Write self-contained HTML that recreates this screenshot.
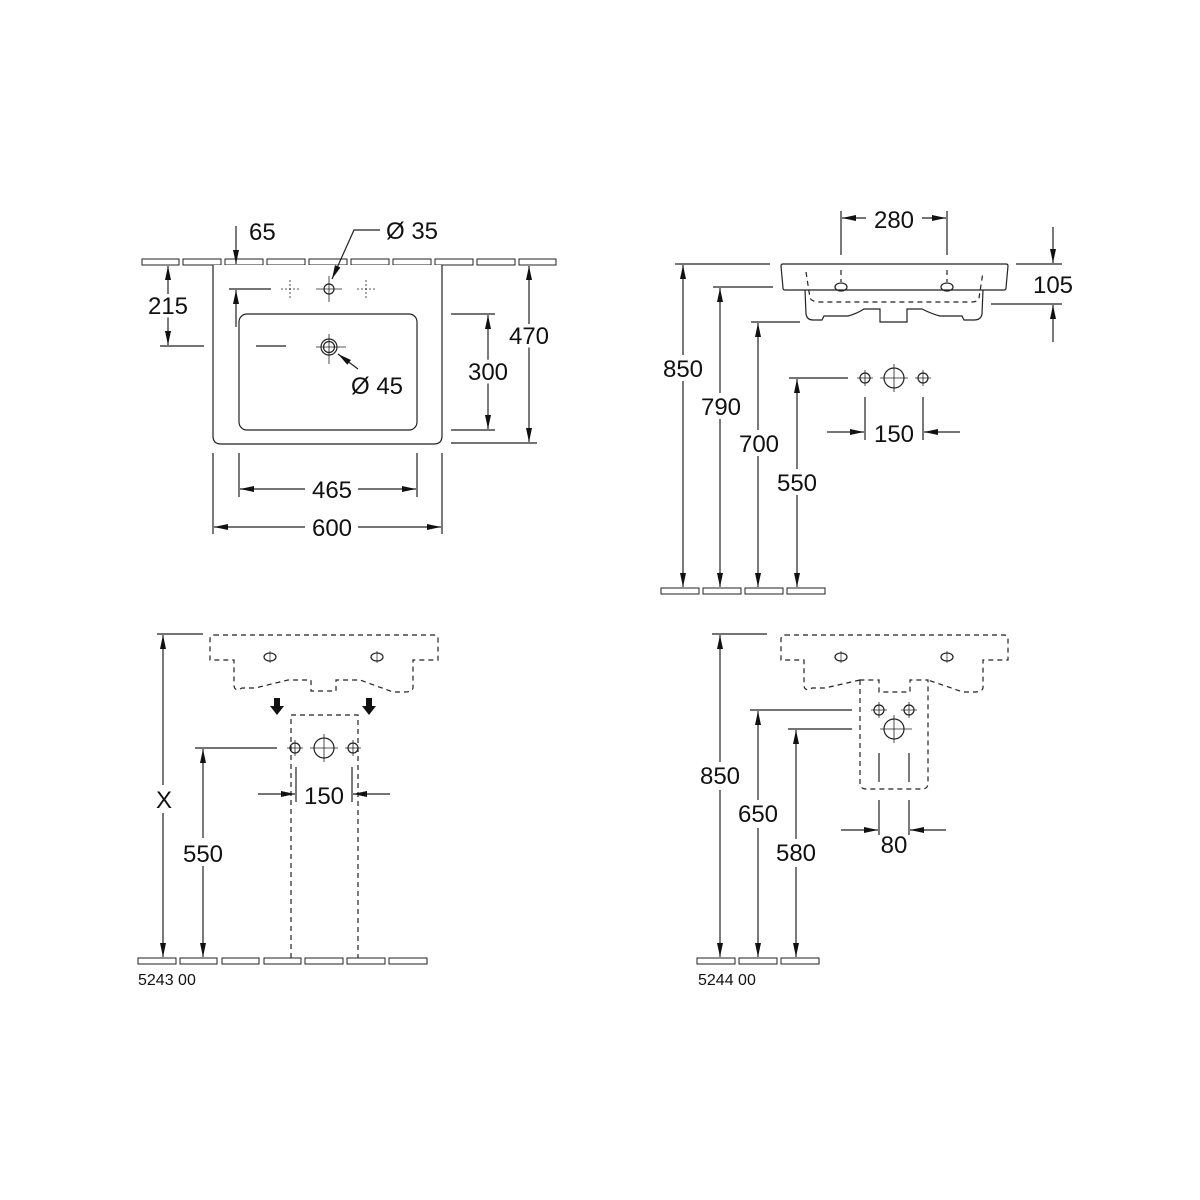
<!DOCTYPE html>
<html><head><meta charset="utf-8"><style>
html,body{margin:0;padding:0;background:#fff}
svg{display:block}
text{font-family:"Liberation Sans",Arial,sans-serif;font-size:24px;fill:#111;stroke:#fff;stroke-width:7px;paint-order:stroke;stroke-linejoin:round}
.s{font-size:16px;stroke-width:0}
</style></head><body>
<svg width="1200" height="1200" viewBox="0 0 1200 1200" xmlns="http://www.w3.org/2000/svg">
<defs>
<marker id="a" viewBox="0 0 14 6" refX="14" refY="3" markerWidth="14" markerHeight="6" markerUnits="userSpaceOnUse" orient="auto"><path d="M0,0 L14,3 L0,6 Z" fill="#111"/></marker>
</defs>
<g fill="none" stroke="#222" stroke-width="1.2">
<!-- ===== TOP LEFT ===== -->
<g stroke-width="1">
<rect x="142" y="259" width="37" height="6"/><rect x="183" y="259" width="38" height="6"/><rect x="225" y="259" width="38" height="6"/><rect x="267" y="259" width="38" height="6"/><rect x="309" y="259" width="38" height="6"/><rect x="351" y="259" width="38" height="6"/><rect x="393" y="259" width="38" height="6"/><rect x="435" y="259" width="38" height="6"/><rect x="477" y="259" width="38" height="6"/><rect x="519" y="259" width="37" height="6"/>
</g>
<path d="M213,265 V436 Q213,444 221,444 H434 Q442,444 442,436 V265" fill="#fff"/>
<rect x="239" y="314" width="178" height="116" rx="8"/>
<!-- taps -->
<circle cx="329" cy="289" r="5"/><path d="M316,289H342M329,276V302" stroke-width="0.8"/>
<g stroke-width="0.8" stroke-dasharray="2,2"><path d="M281,289H299M290,280V298M357,289H375M366,280V298"/></g>
<circle cx="329" cy="347" r="8"/><circle cx="329" cy="347" r="5.5"/><path d="M316,347H346M329,334V364" stroke-width="0.8"/>
<!-- 65 -->
<path d="M236,226V264" marker-end="url(#a)"/>
<!-- Ø35 -->
<path d="M380,230H354L332,279" marker-end="url(#a)"/>
<!-- Ø45 -->
<path d="M358,369L338,354" marker-end="url(#a)"/>
<!-- 215 -->
<path d="M168,300V266" marker-end="url(#a)"/><path d="M168,312V345" marker-end="url(#a)"/>
<path d="M160,346H204M256,346H286"/>
<path d="M229,289H271"/><path d="M236,327V290" marker-end="url(#a)"/>
<!-- 300 -->
<path d="M451,314H495M451,430H495"/>
<path d="M488,360V315" marker-end="url(#a)"/><path d="M488,382V429" marker-end="url(#a)"/>
<!-- 470 -->
<path d="M451,443H537"/>
<path d="M529,325V266" marker-end="url(#a)"/><path d="M529,347V442" marker-end="url(#a)"/>
<!-- 465 -->
<path d="M239,453V497M417,453V497"/>
<path d="M305,489H240" marker-end="url(#a)"/><path d="M358,489H416" marker-end="url(#a)"/>
<!-- 600 -->
<path d="M213,453V534M442,453V534"/>
<path d="M305,527H214" marker-end="url(#a)"/><path d="M358,527H441" marker-end="url(#a)"/>

<!-- ===== TOP RIGHT ===== -->
<path d="M841,211V255M947,211V255"/>
<path d="M866,218H842" marker-end="url(#a)"/><path d="M922,218H946" marker-end="url(#a)"/>
<path d="M781,266 Q781,264 783,264 H1006 Q1008,264 1008,266 L1006,288 Q1006,290 1004,290 H785 Q783,290 783,288 Z"/>
<path d="M805,290 L806,314 Q807,320 813,320 L822,320 L824,316 H848 Q856,314 864,309 H880 V322 H907 V309 H922 Q932,314 940,316 H962 L964,320 H974 Q981,320 982,314 L983,290"/>
<g stroke-dasharray="5,4"><path d="M806,272 L810,298 Q812,302 820,302 H972 Q978,302 979,298 L983,272"/><path d="M841,270V282M947,270V282"/></g>
<ellipse cx="841" cy="287" rx="6" ry="4"/><ellipse cx="947" cy="287" rx="6" ry="4"/>
<!-- 105 -->
<path d="M1016,264H1062M991,304H1062"/>
<path d="M1053,227V263" marker-end="url(#a)"/><path d="M1053,342V305" marker-end="url(#a)"/>
<!-- heights -->
<path d="M675,264H770M713,287H773M751,322H800M789,378H848"/>
<path d="M683,355V265" marker-end="url(#a)"/><path d="M683,381V587" marker-end="url(#a)"/>
<path d="M720,393V288" marker-end="url(#a)"/><path d="M720,419V587" marker-end="url(#a)"/>
<path d="M758,430V323" marker-end="url(#a)"/><path d="M758,456V587" marker-end="url(#a)"/>
<path d="M797,469V379" marker-end="url(#a)"/><path d="M797,495V587" marker-end="url(#a)"/>
<g stroke-width="1"><rect x="661" y="588" width="38" height="6"/><rect x="703" y="588" width="38" height="6"/><rect x="745" y="588" width="38" height="6"/><rect x="787" y="588" width="38" height="6"/></g>
<circle cx="865" cy="378" r="5"/><path d="M857,378H873M865,370V386" stroke-width="0.8"/>
<circle cx="894" cy="378" r="10"/><path d="M880,378H908M894,364V392" stroke-width="0.8"/>
<circle cx="923" cy="378" r="5"/><path d="M915,378H931M923,370V386" stroke-width="0.8"/>
<path d="M865,397V440M923,397V440"/>
<path d="M827,432H864" marker-end="url(#a)"/><path d="M960,432H924" marker-end="url(#a)"/>

<!-- ===== BOTTOM LEFT ===== -->
<g stroke-dasharray="5,4">
<path d="M214,635 H434 Q438,635 438,639 V660 H413 V688 Q412,692 405,692 H393 L360,680 H336 V691 H311 V680 H288 L255,688 H242 Q235,692 234,686 V660 H210 V639 Q210,635 214,635"/>
<path d="M291,958 V715 H358 V958"/>
</g>
<ellipse cx="270" cy="657" rx="6" ry="4"/><ellipse cx="377" cy="657" rx="6" ry="4"/>
<path d="M270,651V663M377,651V663" stroke-width="0.7"/>
<path d="M157,634H203"/>
<path d="M163,785V635" marker-end="url(#a)"/><path d="M163,813V957" marker-end="url(#a)"/>
<path d="M195,748H277"/>
<path d="M203,838V749" marker-end="url(#a)"/><path d="M203,866V957" marker-end="url(#a)"/>
<circle cx="295" cy="748" r="5"/><path d="M287,748H303M295,740V756" stroke-width="0.8"/>
<circle cx="324" cy="748" r="10"/><path d="M310,748H338M324,734V762" stroke-width="0.8"/>
<circle cx="353" cy="748" r="5"/><path d="M345,748H361M353,740V756" stroke-width="0.8"/>
<path d="M296,767V802M352,767V802"/>
<path d="M258,794H295" marker-end="url(#a)"/><path d="M390,794H353" marker-end="url(#a)"/>
<g stroke-width="1"><rect x="138" y="958" width="38" height="6"/><rect x="180" y="958" width="37" height="6"/><rect x="222" y="958" width="37" height="6"/><rect x="264" y="958" width="37" height="6"/><rect x="305" y="958" width="38" height="6"/><rect x="347" y="958" width="38" height="6"/><rect x="389" y="958" width="38" height="6"/></g>
<path d="M274,698h6v8h4l-7,9l-7,-9h4z M366,698h6v8h4l-7,9l-7,-9h4z" fill="#111" stroke="none"/>

<!-- ===== BOTTOM RIGHT ===== -->
<g stroke-dasharray="5,4">
<path d="M785,635 H1004 Q1008,635 1008,639 V660 H983 V688 Q982,692 975,692 H963 L928,680 M860,680 L825,688 H812 Q805,692 804,686 V660 H781 V639 Q781,635 785,635"/>
<path d="M860,680 V783 Q860,789 866,789 H922 Q928,789 928,783 V680 H910 V692 H879 V680 Z"/>
</g>
<ellipse cx="841" cy="657" rx="6" ry="4"/><ellipse cx="947" cy="657" rx="6" ry="4"/>
<path d="M841,651V663M947,651V663" stroke-width="0.7"/>
<path d="M712,634H767"/>
<path d="M720,762V635" marker-end="url(#a)"/><path d="M720,790V957" marker-end="url(#a)"/>
<path d="M750,710H852M788,729H852"/>
<path d="M758,800V711" marker-end="url(#a)"/><path d="M758,828V957" marker-end="url(#a)"/>
<path d="M796,839V730" marker-end="url(#a)"/><path d="M796,867V957" marker-end="url(#a)"/>
<circle cx="879" cy="710" r="5"/><path d="M871,710H887M879,702V718" stroke-width="0.8"/>
<circle cx="909" cy="710" r="5"/><path d="M901,710H917M909,702V718" stroke-width="0.8"/>
<circle cx="894" cy="729" r="10"/><path d="M880,729H912M894,715V743" stroke-width="0.8"/>
<path d="M879,753V782M909,753V782M879,800V835M909,800V835"/>
<path d="M841,830H878" marker-end="url(#a)"/><path d="M946,830H910" marker-end="url(#a)"/>
<g stroke-width="1"><rect x="697" y="958" width="38" height="6"/><rect x="739" y="958" width="38" height="6"/><rect x="781" y="958" width="38" height="6"/></g>
</g>

<!-- TEXT -->
<text x="249" y="240">65</text>
<text x="386" y="239">Ø 35</text>
<text x="168" y="314" text-anchor="middle">215</text>
<text x="351" y="394">Ø 45</text>
<text x="488" y="380" text-anchor="middle">300</text>
<text x="529" y="344" text-anchor="middle">470</text>
<text x="332" y="498" text-anchor="middle">465</text>
<text x="332" y="536" text-anchor="middle">600</text>
<text x="894" y="228" text-anchor="middle">280</text>
<text x="1053" y="293" text-anchor="middle">105</text>
<text x="683" y="377" text-anchor="middle">850</text>
<text x="721" y="415" text-anchor="middle">790</text>
<text x="759" y="452" text-anchor="middle">700</text>
<text x="797" y="491" text-anchor="middle">550</text>
<text x="894" y="442" text-anchor="middle">150</text>
<text x="164" y="808" text-anchor="middle">X</text>
<text x="203" y="862" text-anchor="middle">550</text>
<text x="324" y="804" text-anchor="middle">150</text>
<text class="s" x="138" y="985">5243 00</text>
<text x="720" y="784" text-anchor="middle">850</text>
<text x="758" y="822" text-anchor="middle">650</text>
<text x="796" y="861" text-anchor="middle">580</text>
<text x="894" y="853" text-anchor="middle">80</text>
<text class="s" x="698" y="985">5244 00</text>
</svg>
</body></html>
